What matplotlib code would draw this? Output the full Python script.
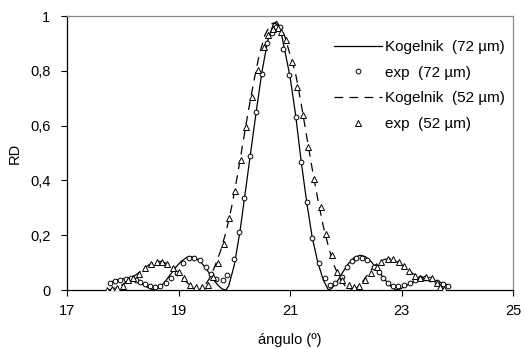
import matplotlib
matplotlib.use("Agg")
import matplotlib.pyplot as plt
from matplotlib.ticker import FuncFormatter, FixedLocator

plt.rcParams['font.family'] = ['Liberation Sans', 'DejaVu Sans']

# Kogelnik theory, 72 um (solid)
k72_x = [17.77, 17.85, 17.95, 18.05, 18.15, 18.25, 18.35, 18.45, 18.55, 18.65, 18.75, 18.85,
         18.95, 19.05, 19.15, 19.22, 19.30, 19.40, 19.50, 19.60, 19.70, 19.78, 19.85, 19.90,
         20.00, 20.10, 20.20, 20.30, 20.40, 20.50, 20.60, 20.70, 20.76, 20.82, 20.90, 21.00,
         21.10, 21.20, 21.30, 21.40, 21.50, 21.60, 21.69, 21.75, 21.85, 21.95, 22.05, 22.15,
         22.26, 22.35, 22.45, 22.55, 22.65, 22.75, 22.83, 22.90, 22.98, 23.08, 23.18, 23.28,
         23.38, 23.48, 23.58, 23.68, 23.78, 23.87]
k72_y = [0.027, 0.034, 0.039, 0.042, 0.040, 0.033, 0.022, 0.009, 0.000, 0.008, 0.028, 0.055,
         0.083, 0.105, 0.119, 0.122, 0.118, 0.102, 0.077, 0.046, 0.019, 0.004, 0.000, 0.015,
         0.090, 0.210, 0.360, 0.510, 0.660, 0.800, 0.910, 0.970, 0.980, 0.960, 0.880, 0.780,
         0.640, 0.470, 0.320, 0.190, 0.100, 0.035, 0.000, 0.006, 0.032, 0.066, 0.097, 0.118,
         0.127, 0.122, 0.105, 0.080, 0.052, 0.026, 0.009, 0.000, 0.004, 0.015, 0.027, 0.036,
         0.040, 0.040, 0.036, 0.029, 0.022, 0.016]

# experimental, 72 um (circles)
e72_x = [17.77, 17.86, 17.95, 18.05, 18.15, 18.24, 18.31, 18.40, 18.49, 18.58, 18.67, 18.78,
         18.87, 18.98, 19.08, 19.19, 19.28, 19.38, 19.49, 19.58, 19.68, 19.79, 19.87, 19.99,
         20.09, 20.17, 20.29, 20.39, 20.49, 20.58, 20.67, 20.75, 20.82, 20.88, 20.99, 21.11,
         21.19, 21.30, 21.40, 21.52, 21.62, 21.72, 21.81, 21.93, 22.02, 22.11, 22.19, 22.29,
         22.39, 22.50, 22.59, 22.67, 22.76, 22.85, 22.94, 23.04, 23.15, 23.24, 23.33, 23.43,
         23.52, 23.63, 23.75, 23.84]
e72_y = [0.025, 0.033, 0.036, 0.041, 0.043, 0.036, 0.030, 0.023, 0.016, 0.012, 0.015, 0.027,
         0.045, 0.063, 0.098, 0.116, 0.118, 0.110, 0.085, 0.057, 0.039, 0.036, 0.055, 0.112,
         0.210, 0.337, 0.490, 0.650, 0.790, 0.900, 0.937, 0.960, 0.960, 0.878, 0.785, 0.633,
         0.468, 0.322, 0.190, 0.097, 0.045, 0.018, 0.027, 0.049, 0.085, 0.106, 0.116, 0.116,
         0.110, 0.085, 0.067, 0.043, 0.024, 0.016, 0.015, 0.018, 0.027, 0.036, 0.043, 0.044,
         0.039, 0.030, 0.022, 0.016]

# Kogelnik theory, 52 um (dashed)
k52_x = [17.72, 17.80, 17.90, 18.00, 18.10, 18.20, 18.30, 18.40, 18.50, 18.60, 18.70, 18.80,
         18.90, 19.00, 19.10, 19.20, 19.30, 19.36, 19.45, 19.55, 19.65, 19.75, 19.85, 19.95,
         20.05, 20.15, 20.25, 20.35, 20.45, 20.55, 20.65, 20.72, 20.80, 20.90, 21.00, 21.10,
         21.20, 21.30, 21.40, 21.50, 21.60, 21.70, 21.80, 21.90, 22.00, 22.10, 22.20, 22.30,
         22.40, 22.50, 22.60, 22.70, 22.80, 22.90, 23.00, 23.10, 23.20, 23.30, 23.40, 23.50,
         23.60, 23.70, 23.77]
k52_y = [0.000, 0.003, 0.010, 0.020, 0.035, 0.050, 0.065, 0.082, 0.096, 0.104, 0.104, 0.095,
         0.080, 0.060, 0.038, 0.018, 0.004, 0.000, 0.010, 0.040, 0.085, 0.140, 0.210, 0.300,
         0.410, 0.530, 0.650, 0.760, 0.860, 0.930, 0.970, 0.975, 0.965, 0.930, 0.860, 0.790,
         0.680, 0.560, 0.440, 0.330, 0.230, 0.150, 0.085, 0.040, 0.012, 0.000, 0.008, 0.030,
         0.058, 0.085, 0.103, 0.112, 0.114, 0.107, 0.093, 0.078, 0.060, 0.050, 0.045, 0.040,
         0.028, 0.012, 0.000]

# experimental, 52 um (triangles)
e52_x = [17.71, 17.80, 17.89, 18.00, 18.10, 18.19, 18.30, 18.40, 18.50, 18.61, 18.70, 18.80,
         18.90, 19.00, 19.10, 19.21, 19.31, 19.42, 19.53, 19.61, 19.71, 19.82, 19.91, 20.01,
         20.12, 20.21, 20.31, 20.43, 20.53, 20.61, 20.70, 20.79, 20.84, 20.93, 21.03, 21.13,
         21.23, 21.33, 21.43, 21.55, 21.64, 21.75, 21.85, 21.93, 22.05, 22.15, 22.24, 22.35,
         22.45, 22.56, 22.64, 22.75, 22.85, 22.95, 23.04, 23.14, 23.24, 23.33, 23.44, 23.54,
         23.63, 23.69, 23.76]
e52_y = [0.000, 0.003, 0.006, 0.015, 0.036, 0.045, 0.058, 0.079, 0.095, 0.103, 0.103, 0.094,
         0.079, 0.067, 0.043, 0.018, 0.010, 0.010, 0.018, 0.049, 0.097, 0.167, 0.262, 0.361,
         0.474, 0.594, 0.706, 0.803, 0.886, 0.931, 0.951, 0.955, 0.943, 0.912, 0.833, 0.742,
         0.640, 0.523, 0.405, 0.302, 0.203, 0.128, 0.067, 0.036, 0.018, 0.010, 0.015, 0.036,
         0.061, 0.085, 0.103, 0.112, 0.112, 0.103, 0.089, 0.069, 0.051, 0.045, 0.046, 0.043,
         0.027, 0.012, 0.003]

x_ticks = [17, 19, 21, 23, 25]
y_ticks = [0, 0.2, 0.4, 0.6, 0.8, 1.0]
labels = ["Kogelnik  (72 µm)", "exp  (72 µm)", "Kogelnik  (52 µm)", "exp  (52 µm)"]

FS = 10.5
LFS = 11

fig = plt.figure(figsize=(5.26, 3.49), dpi=100)
ax = fig.add_axes([67/526, 59/349, 446/526, 274/349])

ax.plot(k72_x, k72_y, color='black', lw=0.9, ls='-', label=labels[0], zorder=3)
ax.plot(e72_x, e72_y, ls='none', marker='o', ms=3.4, mfc='white', mec='black', mew=0.7,
        label=labels[1], zorder=4)
ax.plot(k52_x, k52_y, color='black', lw=0.9, ls=(0, (7, 5)), label=labels[2], zorder=3)
ax.plot(e52_x, e52_y, ls='none', marker='^', ms=3.8, mfc='white', mec='black', mew=0.7,
        label=labels[3], zorder=4)

ax.set_xlim(17, 25)
ax.set_ylim(0, 1)
ax.xaxis.set_major_locator(FixedLocator(x_ticks))
ax.yaxis.set_major_locator(FixedLocator(y_ticks))
ax.yaxis.set_major_formatter(FuncFormatter(lambda v, p: ('%g' % v).replace('.', ',')))
ax.tick_params(direction='out', length=4, width=0.8, labelsize=FS, colors='black')
ax.tick_params(axis='x', pad=6)
ax.tick_params(axis='y', pad=8)

for s in ['left', 'bottom']:
    ax.spines[s].set_color('black')
    ax.spines[s].set_linewidth(0.9)
for s in ['top', 'right']:
    ax.spines[s].set_color('#8c8c8c')
    ax.spines[s].set_linewidth(0.9)

ax.set_xlabel('ángulo (º)', fontsize=FS, labelpad=11)
ax.set_ylabel('RD', fontsize=FS, labelpad=6)

leg = ax.legend(loc='upper left', bbox_to_anchor=(0.598, 0.912), frameon=False, fontsize=LFS,
                handlelength=3.15, handletextpad=0.2, labelspacing=0.76, borderpad=0,
                borderaxespad=0, numpoints=1)

fig.savefig('out.png', dpi=100)
